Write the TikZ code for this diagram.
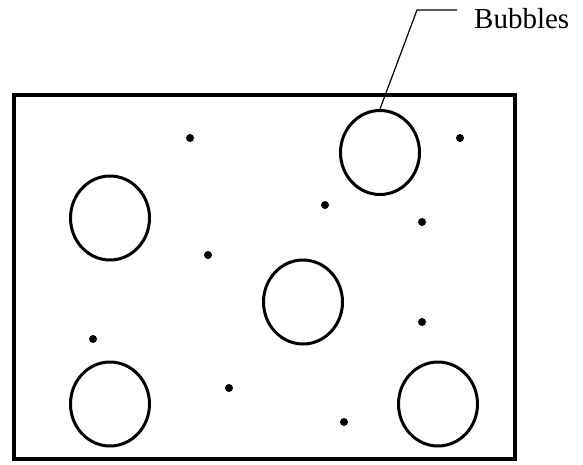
\documentclass[tikz,border=0pt]{standalone}
\usepackage{fontspec}
\setmainfont{Liberation Serif}
\usetikzlibrary{shapes.geometric}
\begin{document}
\begin{tikzpicture}[x=1pt,y=-1pt,
  bubble/.style={draw,ellipse,line width=3pt,minimum width=79pt,minimum height=84pt,inner sep=0pt},
  grain/.style={circle,fill,minimum size=8pt,inner sep=0pt},
  tank/.style={draw,line width=4pt},
  leader/.style={draw,line width=1.2pt},
  label/.style={font=\fontsize{29}{32}\selectfont,inner sep=0pt,anchor=base west}]
\useasboundingbox (0,0) rectangle (583,464);
% container
\draw[tank] (14,95) rectangle (515,458.5);
% bubbles
\node[bubble] (b1) at (110,218) {};
\node[bubble] (b2) at (380,152.5) {};
\node[bubble] (b3) at (303,302) {};
\node[bubble] (b4) at (110,404) {};
\node[bubble] (b5) at (438,404) {};
% particles
\node[grain] (p1) at (190,138) {};
\node[grain] (p2) at (460,138) {};
\node[grain] (p3) at (325,205) {};
\node[grain] (p4) at (422,222) {};
\node[grain] (p5) at (208,255) {};
\node[grain] (p6) at (93,339) {};
\node[grain] (p7) at (422,322) {};
\node[grain] (p8) at (229,388) {};
\node[grain] (p9) at (344,422) {};
% callout
\node[label] (lbl) at (474,28) {Bubbles};
\coordinate (bend) at (417,10);
\coordinate (tail) at (457,10);
\draw[leader] (b2.north) -- (bend) -- (tail);
\end{tikzpicture}
\end{document}
